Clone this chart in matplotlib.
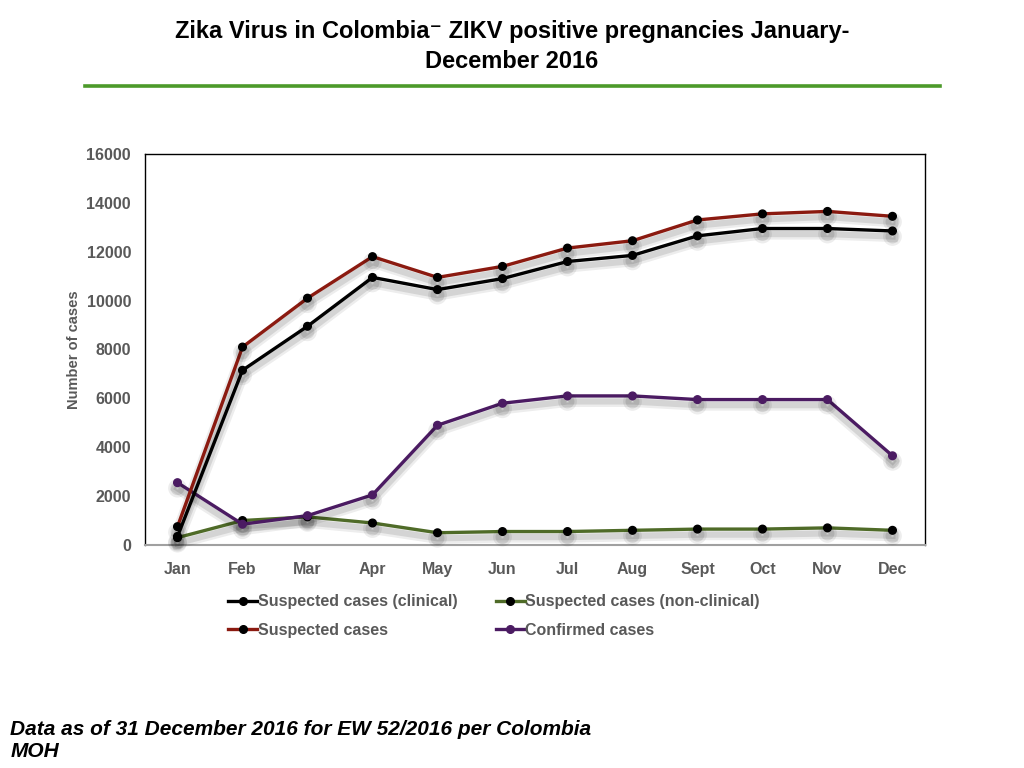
import matplotlib
matplotlib.use("Agg")
import matplotlib.pyplot as plt
import matplotlib.patheffects as pe
from matplotlib.lines import Line2D

months = ["Jan", "Feb", "Mar", "Apr", "May", "Jun", "Jul", "Aug", "Sept", "Oct", "Nov", "Dec"]
suspected_clinical = [350, 7150, 8950, 10950, 10450, 10900, 11600, 11850, 12650, 12950, 12950, 12850]
suspected_nonclinical = [300, 1000, 1150, 900, 500, 550, 550, 600, 650, 650, 700, 600]
suspected = [750, 8100, 10100, 11800, 10950, 11400, 12150, 12450, 13300, 13550, 13650, 13450]
confirmed = [2550, 850, 1200, 2050, 4900, 5800, 6100, 6100, 5950, 5950, 5950, 3650]
y_ticks = [0, 2000, 4000, 6000, 8000, 10000, 12000, 14000, 16000]

sans = ["Liberation Sans Narrow", "Liberation Sans", "DejaVu Sans"]
plt.rcParams["font.family"] = ["Liberation Sans", "DejaVu Sans"]
gray = "#595959"

fig = plt.figure(figsize=(10.24, 7.68), dpi=100)

# title and green rule
fig.text(0.5, 0.959, "Zika Virus in Colombia\u207b ZIKV positive pregnancies January-",
         ha="center", va="center", fontsize=17, fontweight="bold", family=sans)
fig.text(0.5, 0.920, "December 2016", ha="center", va="center",
         fontsize=17, fontweight="bold", family=sans)
fig.add_artist(Line2D([0.083, 0.918], [0.888, 0.888], color="#4c9a2a", linewidth=2.6,
                      transform=fig.transFigure))

ax = fig.add_axes([0.1416, 0.2904, 0.7617, 0.5091])
x = list(range(len(months)))

# soft drop shadow under the lines
shadow = [pe.SimpleLineShadow(offset=(0, -4), shadow_color="black", alpha=0.07, linewidth=8),
          pe.SimpleLineShadow(offset=(0, -4), shadow_color="black", alpha=0.10, linewidth=4.5),
          pe.Normal()]

series = [
    (suspected_nonclinical, "#4f6b28", "black", "Suspected cases (non-clinical)"),
    (confirmed, "#4b1b62", "#4b1b62", "Confirmed cases"),
    (suspected, "#8b1a10", "black", "Suspected cases"),
    (suspected_clinical, "black", "black", "Suspected cases (clinical)"),
]
handles = {}
for vals, col, mcol, lab in series:
    ax.plot(x, vals, color=col, linewidth=2.4, marker="o", markersize=5.5,
            markerfacecolor=mcol, markeredgecolor=mcol,
            path_effects=shadow, clip_on=False, zorder=3)
    handles[lab] = Line2D([], [], color=col, linewidth=2.4, marker="o", markersize=5.5,
                          markerfacecolor=mcol, markeredgecolor=mcol)

ax.set_xlim(-0.5, 11.5)
ax.set_ylim(0, 16000)
ax.set_xticks(x)
ax.set_xticklabels(months)
ax.set_yticks(y_ticks)
ax.set_yticklabels([str(v) for v in y_ticks])
ax.tick_params(axis="x", length=0, pad=12, labelsize=11.5, labelcolor=gray)
ax.tick_params(axis="y", length=0, pad=10, labelsize=11.5, labelcolor=gray)
for lbl in ax.get_xticklabels() + ax.get_yticklabels():
    lbl.set_fontweight("bold")
ax.set_ylabel("Number of cases", fontsize=10.5, fontweight="bold", color=gray, labelpad=4)
for s in ["left", "top", "right"]:
    ax.spines[s].set_color("black")
    ax.spines[s].set_linewidth(1.0)
ax.spines["bottom"].set_color("#a0a0a0")
ax.spines["bottom"].set_linewidth(1.5)

order = ["Suspected cases (clinical)", "Suspected cases",
         "Suspected cases (non-clinical)", "Confirmed cases"]
leg = fig.legend([handles[k] for k in order], order, ncol=2, frameon=False,
                 loc="upper left", bbox_to_anchor=(0.209, 0.245),
                 handlelength=1.8, handletextpad=0.05, columnspacing=2.4,
                 labelspacing=0.85, prop={"size": 11.5, "weight": "bold"})
for t in leg.get_texts():
    t.set_color(gray)

fig.text(0.010, 0.036, "Data as of 31 December 2016 for EW 52/2016 per Colombia\nMOH",
         ha="left", va="center", fontsize=15, fontweight="bold", style="italic",
         family=sans, linespacing=1.2)

fig.savefig("out.png", dpi=100)
